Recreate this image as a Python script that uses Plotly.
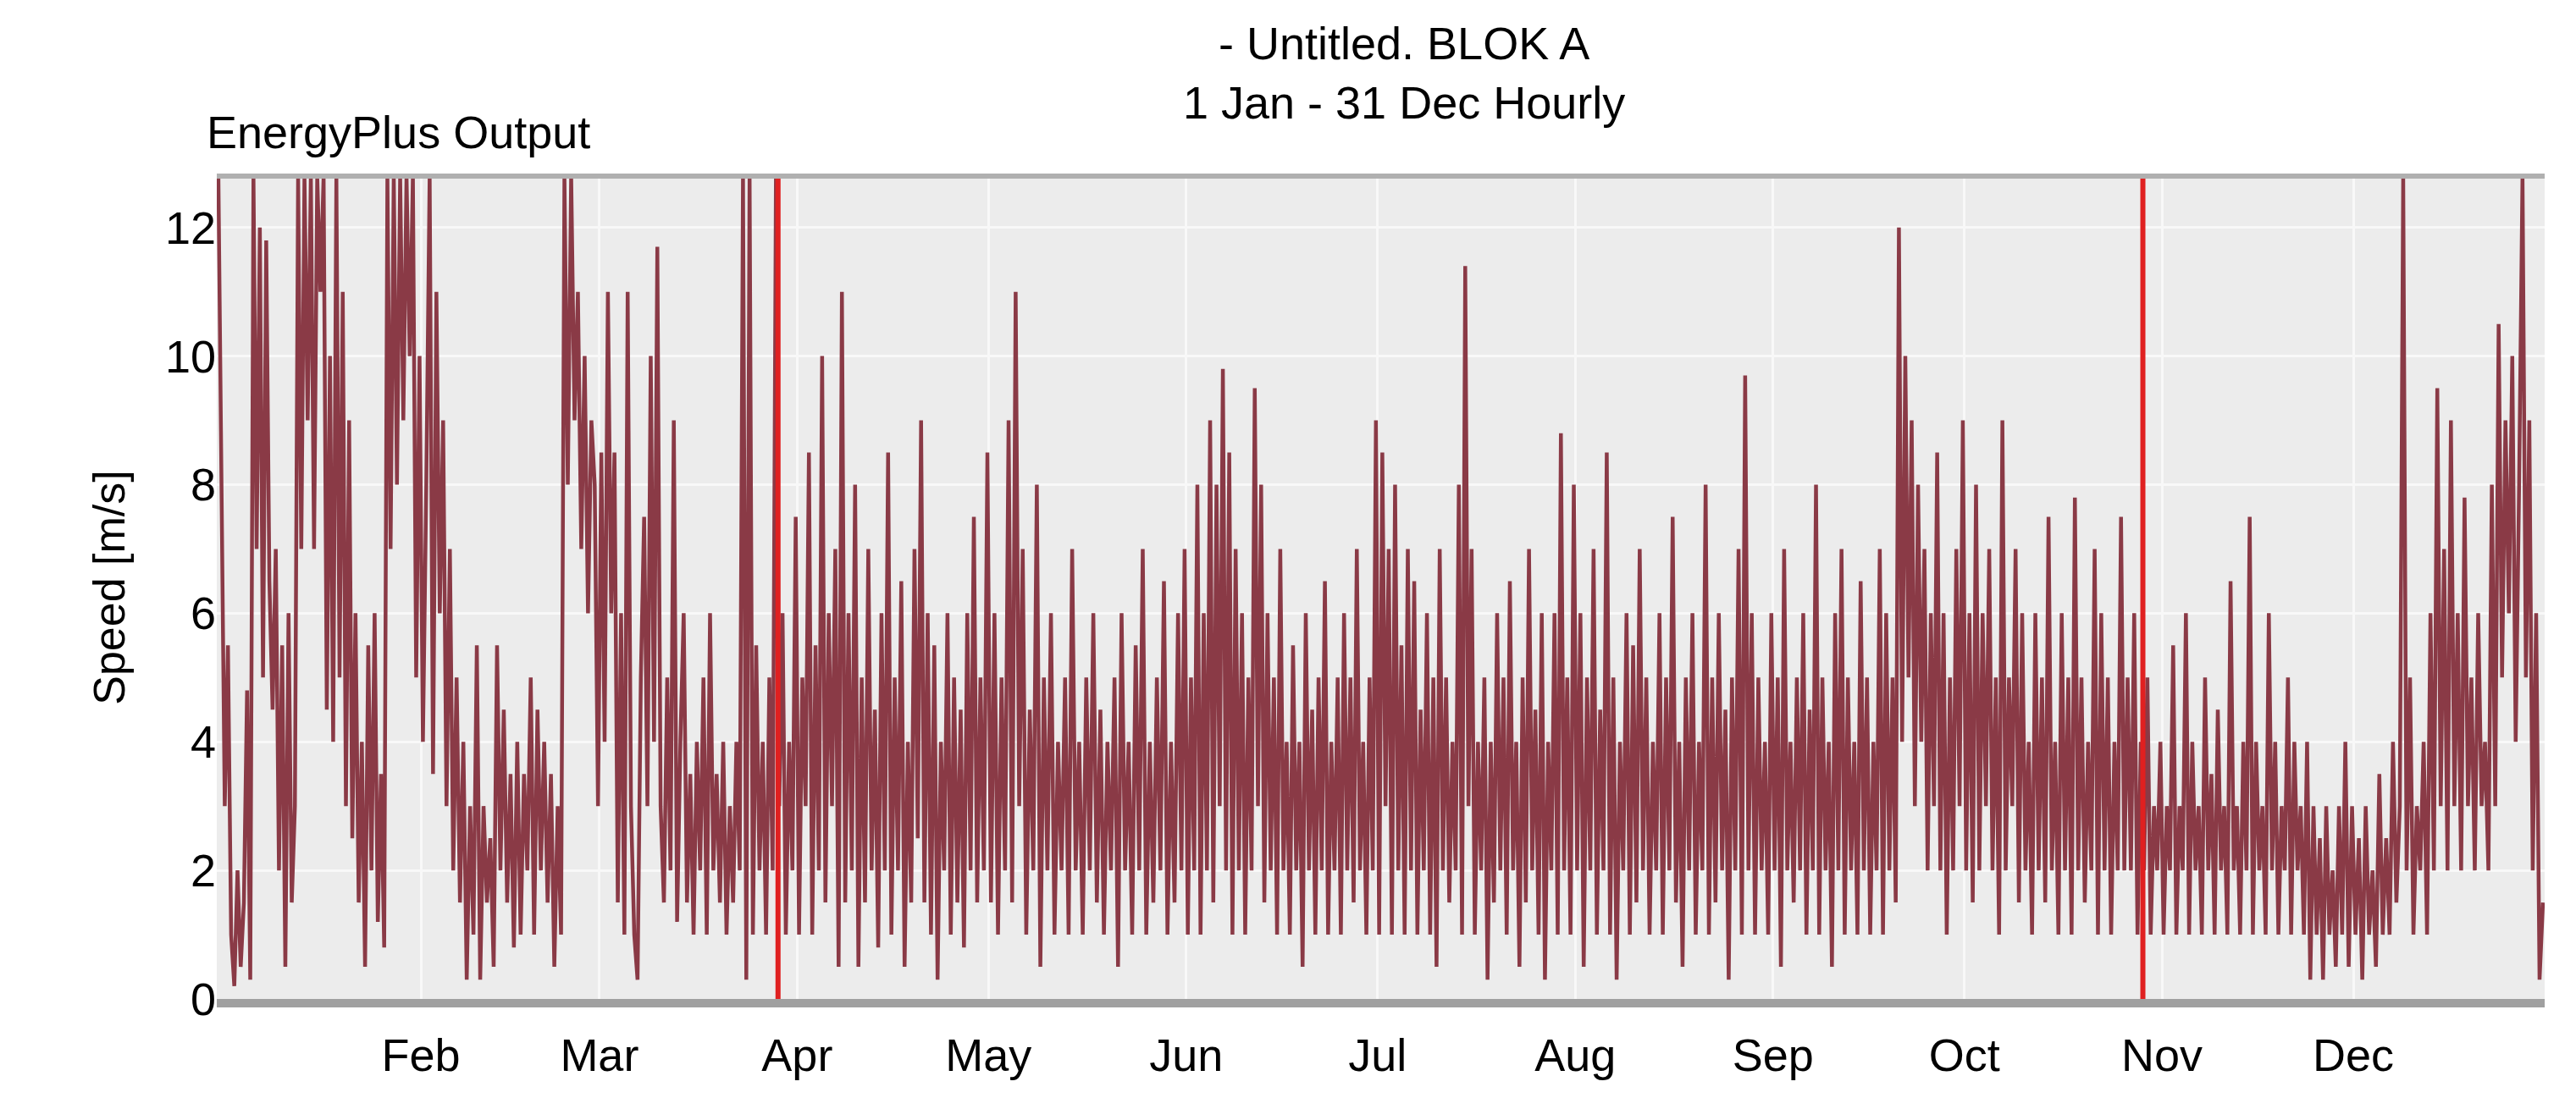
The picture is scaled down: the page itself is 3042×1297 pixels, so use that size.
import plotly.graph_objects as go

# Approximate wind speed readings (m/s), roughly two readings per day
jan = [12.8,8,3,5.5,1,0.2,2,0.5,1.5,4.8,0.3,12.8,7,12,5,11.8,6.5,4.5,7,2,5.5,0.5,6,1.5,3,12.8,7,12.8,9,12.8,7,12.8,11,12.8,4.5,10,4,12.8,5,11,3,9,2.5,6,1.5,4,0.5,5.5,2,6,1.2,3.5,0.8,12.8,7,12.8,8,12.8,9,12.8,10,12.8]
feb = [5,10,4,8,12.8,3.5,11,6,9,3,7,2,5,1.5,4,0.3,3,1,5.5,0.3,3,1.5,2.5,0.5,5.5,2,4.5,1.5,3.5,0.8,4,1,3.5,2,5,1,4.5,2,4,1.5,3.5,0.5,3,1,12.8,8,12.8,9,11,7,10,6,9]
mar = [8,3,8.5,4,11,6,8.5,1.5,6,1,11,3,1,0.3,5,7.5,3,10,4,11.7,3,1.5,5,2,9,1.2,4,6,1.5,3.5,1,4,2,5,1,6,2,3.5,1.5,4,1,3,1.5,4,2,12.8,0.3,12.8,1,5.5,2,4,1,5,2,12.8,3,6,1,4]
apr = [2,7.5,1,5,3,8.5,1,5.5,2,10,1.5,6,3,7,0.5,11,1.5,6,2,8,0.5,5,1.5,7,2,4.5,0.8,6,2,8.5,1,5,2,6.5,0.5,4,1.5,7,2.5,9,1.5,6,1,5.5,0.3,4,2,6,1,5,1.5,4.5,0.8,6,2,7.5,1.5,5]
may = [2,8.5,1.5,6,1,5,2,9,1.5,11,3,7,1,4.5,2,8,0.5,5,2,6,1,4,2,5,1,7,2,4,1,5,2,6,1.5,4.5,1,4,2,5,0.5,6,2,4,1,5.5,2,7,1,4,1.5,5,2,6.5,1,4,1.5,6]
jun = [2,7,1,5,2,8,1,6,2,9,1.5,8,3,9.8,2,8.5,1,7,2,6,1,5,2,9.5,3,8,1.5,6,2,5,1,7,2,4,1,5.5,2,4,0.5,6,2,4.5,1,5,2,6.5,1,4,2,5,1,6,2,5,1.5,7,2,4,1,5]
jul = [2,9,1,8.5,3,7,1,8,2,5.5,1,7,2,6.5,1,4.5,2,6,1,5,0.5,7,2,5,1.5,4,2,8,1,11.4,3,7,1,4,2,5,0.3,4,1.5,6,2,5,1,6.5,2,4,0.5,5,1.5,7,2,4.5,1,6,0.3,4,2,6,1,8.8,2,5]
aug = [1,8,2,6,0.5,5,2,7,1,4.5,2,8.5,1,5,0.3,4,2,6,1,5.5,1.5,7,2,5,1,4,2,6,1,5,2,7.5,1.5,4,0.5,5,2,6,1,4,2,8,1,5,1.5,6,2,4.5,0.3,5,2,7,1,9.7,2,6,1,5,2,4]
sep = [1,6,2,5,0.5,7,2,4,1.5,5,2,6,1,4.5,2,8,1,5,2,4,0.5,6,2,7,1,5,2,4,1,6.5,2,5,1,4,2,7,1,6,2,5,1.5,12,4,10,5,9,3,8,4,7,2,6,3,8.5,2,6,1,5,2,7]
octo = [3,9,2,6,1.5,8,2,6,3,7,2,5,1,9,2,5,3,7,1.5,6,2,4,1,6,2,5,1.5,7.5,2,4,1,6,2,5,1,7.8,2,5,1.5,4,2,7,1,6,2,5,1,4,2,7.5,2,5,2,6,1,4,2,5,1,3]
nov = [2,4,1,3,2,5.5,1,3,2,6,1,4,2,3,1,5,2,3.5,1,4.5,2,3,1,6.5,2,3,1,4,2,7.5,1,4,2,3,1,6,2,4,1,3,2,5,1,4,2,3,1,4,0.3,3,1,2.5,0.3,3,1,2,0.5,3,1,4]
dec = [0.5,3,1,2.5,0.3,3,1,2,0.5,3.5,1,2.5,1,4,1.5,3,12.8,2,5,1,3,2,4,1,6,2,9.5,3,7,2,9,3,6,2,7.8,3,5,2,6,3,4,2,8,3,10.5,5,9,6,10,4,8,12.8,5,9,2,6,0.3,1.5]

speed = jan + feb + mar + apr + may + jun + jul + aug + sep + octo + nov + dec
month_starts = [0, 31, 59, 90, 120, 151, 181, 212, 243, 273, 304, 334, 365]
month_data = [jan, feb, mar, apr, may, jun, jul, aug, sep, octo, nov, dec]
days = []
for i, m in enumerate(month_data):
    a, b = month_starts[i], month_starts[i + 1]
    n = len(m)
    days += [a + (b - a) * (k + 0.5) / n for k in range(n)]

tick_days = [32, 60, 91, 121, 152, 182, 213, 244, 274, 305, 335]
tick_labels = ["Feb", "Mar", "Apr", "May", "Jun", "Jul", "Aug", "Sep", "Oct", "Nov", "Dec"]
marker_days = [88, 302]

fig = go.Figure()
fig.add_trace(go.Scatter(x=days, y=speed, mode="lines",
                         line=dict(color="#8a3a46", width=4.5), hoverinfo="skip"))
for d in marker_days:
    fig.add_trace(go.Scatter(x=[d, d], y=[0, 12.8], mode="lines",
                             line=dict(color="#e02020", width=6), hoverinfo="skip"))

F = "Liberation Sans, Arial, sans-serif"
fig.update_layout(
    width=3042, height=1297, showlegend=False,
    paper_bgcolor="white", plot_bgcolor="#ececec",
    margin=dict(l=248, r=45, t=200, b=125),
    font=dict(family=F, size=52, color="black"),
    xaxis=dict(range=[0, 365], tickvals=tick_days, ticktext=tick_labels,
               showgrid=True, gridcolor="#f8f8f8", gridwidth=3, zeroline=False,
               showline=True, linecolor="#a0a0a0", linewidth=10, mirror=False,
               ticks="", tickfont=dict(size=54), ticklabelstandoff=10),
    yaxis=dict(range=[0, 12.8], tickvals=[0, 2, 4, 6, 8, 10, 12],
               showgrid=True, gridcolor="#f8f8f8", gridwidth=3, zeroline=False,
               showline=False, ticks="", tickfont=dict(size=54),
               title=dict(text="Speed [m/s]", font=dict(size=52), standoff=30)),
    shapes=[dict(type="line", xref="paper", yref="paper", x0=0, x1=1, y0=1, y1=1,
                 line=dict(color="#b0b0b0", width=6))],
    annotations=[
        dict(text="- Untitled. BLOK A<br>1 Jan - 31 Dec Hourly", xref="paper", yref="paper",
             x=0.51, y=1.0, yshift=55, xanchor="center", yanchor="bottom", showarrow=False,
             font=dict(size=54)),
        dict(text="EnergyPlus Output", xref="paper", yref="paper", x=-0.005, y=1.0, yshift=20,
             xanchor="left", yanchor="bottom", showarrow=False, font=dict(size=54)),
    ],
)
fig.write_html("out.html")
